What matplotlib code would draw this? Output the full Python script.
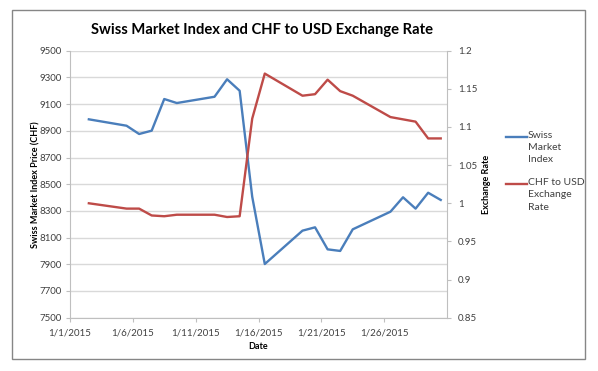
import matplotlib
matplotlib.use("Agg")
import matplotlib.pyplot as plt
from matplotlib.patches import Rectangle
from matplotlib.lines import Line2D
import datetime as dt

plt.rcParams["font.family"] = ["Lato", "DejaVu Sans"]

days = [2, 5, 6, 7, 8, 9, 12, 13, 14, 15, 16, 19, 20, 21, 22, 23, 26, 27, 28, 29, 30]
smi = [8986, 8938, 8876, 8901, 9138, 9108, 9155, 9286, 9200, 8406, 7902,
       8152, 8177, 8012, 8000, 8162, 8294, 8402, 8317, 8436, 8382]
chf_usd = [1.000, 0.993, 0.993, 0.984, 0.983, 0.985, 0.985, 0.982, 0.983, 1.111, 1.170,
           1.141, 1.143, 1.162, 1.147, 1.141, 1.113, 1.110, 1.107, 1.085, 1.085]
tick_days = [1, 6, 11, 16, 21, 26]
series_names = ["Swiss\nMarket\nIndex", "CHF to USD\nExchange\nRate"]

dates = [dt.datetime(2015, 1, d, 12) for d in days]

W, H = 598, 371
fig = plt.figure(figsize=(W / 100, H / 100), dpi=100)
fig.patches.append(Rectangle((12 / W, 1 - 359 / H), 573 / W, 349 / H, transform=fig.transFigure,
                             fill=False, edgecolor="#868686", linewidth=1.0))

ax1 = fig.add_axes([70 / W, 1 - 317.7 / H, 377 / W, 267 / H])
ax2 = ax1.twinx()

blue = "#4a7ebb"
red = "#be4b48"
grid_c = "#d9d9d9"
axis_c = "#bfbfbf"
text_c = "#404040"

ax1.plot(dates, smi, color=blue, lw=1.7)
ax2.plot(dates, chf_usd, color=red, lw=1.7)

ax1.set_xlim(dt.datetime(2015, 1, 1), dt.datetime(2015, 1, 31))
ax1.set_ylim(7500, 9500)
ax1.set_yticks(range(7500, 9501, 200))
ax2.set_ylim(0.85, 1.2)
ax2.set_yticks([0.85, 0.9, 0.95, 1.0, 1.05, 1.1, 1.15, 1.2])
ax2.set_yticklabels(["0.85", "0.9", "0.95", "1", "1.05", "1.1", "1.15", "1.2"])

ax1.set_xticks([dt.datetime(2015, 1, d) for d in tick_days])
ax1.set_xticklabels([f"1/{d}/2015" for d in tick_days])

ax1.grid(axis="y", color=grid_c, linewidth=1.0)
ax1.set_axisbelow(True)
for ax in (ax1, ax2):
    ax.spines["top"].set_visible(False)
    for s in ("left", "right", "bottom"):
        ax.spines[s].set_color(axis_c)
ax1.spines["right"].set_visible(False)
ax2.spines["left"].set_visible(False)
ax2.spines["bottom"].set_visible(False)

ax1.tick_params(axis="both", colors=axis_c, labelcolor=text_c, labelsize=7, length=3, pad=3)
ax2.tick_params(axis="y", colors=axis_c, labelcolor=text_c, labelsize=7, length=3, pad=5)
ax1.tick_params(axis="x", pad=5)

ax1.set_ylabel("Swiss Market Index Price (CHF)", fontsize=6.5, fontweight="bold", labelpad=-1)
ax2.set_ylabel("Exchange Rate", fontsize=6.5, fontweight="bold", labelpad=3)
ax1.set_xlabel("Date", fontsize=6.5, fontweight="bold", labelpad=3)

fig.text(262 / W, 1 - 30 / H, "Swiss Market Index and CHF to USD Exchange Rate",
         ha="center", va="center", fontsize=10.6, fontweight="bold", color="black")

# legend, drawn by hand so the line sits on the first text row as in Excel
for name, color, y in zip(series_names, [blue, red], [136.7, 184.3]):
    fig.lines.append(Line2D([506 / W, 527 / W], [1 - y / H, 1 - y / H], transform=fig.transFigure,
                            color=color, lw=1.7))
    fig.text(528 / W, 1 - (y - 6) / H, name, ha="left", va="top", fontsize=7.5,
             color=text_c, linespacing=1.45)

fig.savefig("out.png", dpi=100)
